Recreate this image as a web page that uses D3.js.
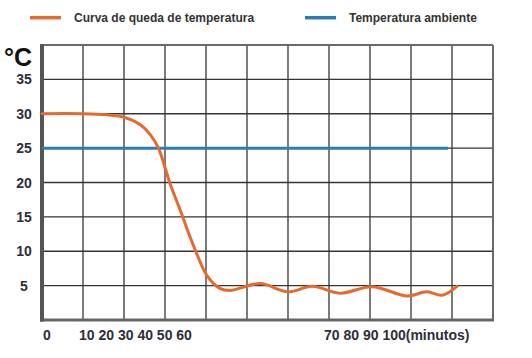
<!DOCTYPE html>
<html>
<head>
<meta charset="utf-8">
<script src="https://cdn.jsdelivr.net/npm/d3@7"></script>
<style>
  html, body { margin: 0; padding: 0; background: #fff; }
  svg { display: block; }
  text { font-family: "Liberation Sans", Arial, sans-serif; }
</style>
</head>
<body>
<svg id="chart" width="532" height="358"></svg>
<script>
// ---- data ----
const seriesNames = ["Curva de queda de temperatura", "Temperatura ambiente"];
const dropMinutes = [0, 10, 20, 24, 26.5, 28.4, 31.2, 33.7, 36.1, 37.7, 40.2, 43.4, 45.9, 53.2, 60, 65.9, 72.7, 80.5, 89, 93.9, 97.6, 101.2];
const dropTemps   = [30, 30, 29.5, 28.4, 26.9, 25, 19.9, 16, 12.1, 9.7, 6.5, 4.6, 4.3, 5.3, 4.1, 4.9, 3.9, 4.85, 3.5, 4.1, 3.6, 4.9];
const ambientMinutes = [0, 99];
const ambientTemps   = [25, 25];
const yTicks = [5, 10, 15, 20, 25, 30, 35];
const xGrid = [10, 20, 30, 40, 50, 60, 70, 80, 90, 100];
const xTickLabels = ["0", "10 20 30 40 50 60", "70 80 90 100(minutos)"];
const xTickAt = [0, 10, 70];
const yUnit = "°C";

// ---- layout ----
const svg = d3.select("#chart");
const mLeft = 42, mRight = 493, mTop = 45, mBottom = 320;
const x = d3.scaleLinear().domain([0, 110]).range([mLeft, mRight]);
const y = d3.scaleLinear().domain([0, 40]).range([mBottom, mTop]);
const orange = "#e8692c", blue = "#2b7bb4", gridC = "#353535";

// grid
svg.append("g").selectAll("line").data(xGrid).join("line")
  .attr("x1", d => x(d)).attr("x2", d => x(d))
  .attr("y1", mTop).attr("y2", mBottom)
  .attr("stroke", gridC).attr("stroke-width", 1.3);
svg.append("g").selectAll("line").data(yTicks).join("line")
  .attr("x1", mLeft).attr("x2", mRight)
  .attr("y1", d => y(d)).attr("y2", d => y(d))
  .attr("stroke", gridC).attr("stroke-width", 1.3);

// borders
svg.append("line").attr("x1", mLeft).attr("x2", mRight).attr("y1", mTop).attr("y2", mTop)
  .attr("stroke", "#6a6a6a").attr("stroke-width", 2);
svg.append("line").attr("x1", mRight).attr("x2", mRight).attr("y1", mTop).attr("y2", mBottom)
  .attr("stroke", "#6a6a6a").attr("stroke-width", 2);
svg.append("line").attr("x1", mLeft - 2).attr("x2", mRight + 1).attr("y1", mBottom).attr("y2", mBottom)
  .attr("stroke", "#666").attr("stroke-width", 3);
svg.append("line").attr("x1", mLeft).attr("x2", mLeft).attr("y1", mTop - 1).attr("y2", mBottom + 1.5)
  .attr("stroke", "#555").attr("stroke-width", 4);

// y labels
svg.append("g").selectAll("text").data(yTicks).join("text")
  .attr("x", 24).attr("y", d => y(d)).attr("dy", "0.36em")
  .attr("text-anchor", "middle")
  .attr("font-size", 14).attr("font-weight", "bold").attr("fill", "#2e2e3a")
  .text(d => d);

// unit
svg.append("text").attr("x", 4).attr("y", 66)
  .attr("font-family", "'Open Sans', sans-serif").attr("font-weight", 600)
  .attr("font-size", 25).attr("fill", "#111").text(yUnit);

// x labels
svg.append("g").selectAll("text").data(xTickLabels).join("text")
  .attr("x", (d, i) => i === 0 ? x(xTickAt[i]) + 1 : x(xTickAt[i]) - (i === 1 ? 4 : 5))
  .attr("y", 339.5)
  .attr("font-size", 14).attr("font-weight", "bold").attr("fill", "#2e2e3a")
  .text(d => d);

// lines
const lineGen = d3.line().x(d => x(d[0])).y(d => y(d[1])).curve(d3.curveCatmullRom.alpha(0.5));
svg.append("path")
  .attr("d", lineGen(ambientMinutes.map((m, i) => [m, ambientTemps[i]])))
  .attr("fill", "none").attr("stroke", blue).attr("stroke-width", 3);
svg.append("path")
  .attr("d", lineGen(dropMinutes.map((m, i) => [m, dropTemps[i]])))
  .attr("fill", "none").attr("stroke", orange).attr("stroke-width", 3)
  .attr("stroke-linecap", "round");

// legend
const legend = [
  { name: seriesNames[0], color: orange, x0: 30 },
  { name: seriesNames[1], color: blue, x0: 305 }
];
const lg = svg.append("g").selectAll("g").data(legend).join("g");
lg.append("line").attr("x1", d => d.x0).attr("x2", d => d.x0 + 31)
  .attr("y1", 17.7).attr("y2", 17.7)
  .attr("stroke", d => d.color).attr("stroke-width", 3.5);
lg.append("text").attr("x", d => d.x0 + 44).attr("y", 22)
  .attr("font-size", 12).attr("font-weight", "bold").attr("fill", "#333")
  .text(d => d.name);
</script>
</body>
</html>
